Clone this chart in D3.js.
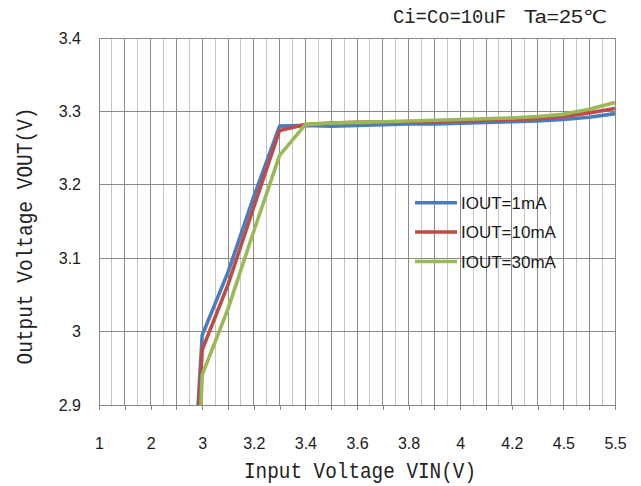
<!DOCTYPE html>
<html>
<head>
<meta charset="utf-8">
<script src="https://cdn.jsdelivr.net/npm/d3@7/dist/d3.min.js"></script>
<style>
  html, body { margin: 0; padding: 0; background: #fff; }
  svg { display: block; }
</style>
</head>
<body>
<svg id="chart" width="641" height="486"></svg>
<script>
// ---- data ----
const categories = ["1","1.5","2","2.5","3","3.1","3.2","3.3","3.4","3.5","3.6","3.7","3.8","3.9","4","4.1","4.2","4.3","4.5","5","5.5"];
const tickLabels = ["1","2","3","3.2","3.4","3.6","3.8","4","4.2","4.5","5.5"];
const yTicks = [2.9, 3.0, 3.1, 3.2, 3.3, 3.4];
const seriesNames = ["IOUT=1mA", "IOUT=10mA", "IOUT=30mA"];
const iout1mA  = [0.97, 1.47, 1.97, 2.40, 2.995, 3.081, 3.184, 3.280, 3.281, 3.280, 3.281, 3.282, 3.283, 3.283, 3.284, 3.285, 3.286, 3.287, 3.289, 3.292, 3.297];
const iout10mA = [0.96, 1.46, 1.96, 2.35, 2.975, 3.064, 3.170, 3.274, 3.282, 3.284, 3.285, 3.286, 3.286, 3.286, 3.287, 3.288, 3.289, 3.290, 3.293, 3.298, 3.304];
const iout30mA = [0.94, 1.43, 1.92, 2.10, 2.941, 3.031, 3.137, 3.240, 3.282, 3.284, 3.285, 3.286, 3.287, 3.288, 3.289, 3.290, 3.291, 3.293, 3.296, 3.303, 3.312];
const colors = ["#4A7EBB", "#BE4B48", "#98B954"];
const noteLeft = "Ci=Co=10uF";
const noteRight = "Ta=25\u2103";

// ---- layout ----
const L = 99, R = 615, T = 38, B = 405;
const svg = d3.select("#chart");

const x = d3.scalePoint().domain(categories).range([L, R]).padding(0);
const y = d3.scaleLinear().domain([2.9, 3.4]).range([B, T]);

// minor vertical gridlines (midpoints)
const mids = [];
for (let i = 0; i < categories.length - 1; i++) mids.push((x(categories[i]) + x(categories[i + 1])) / 2);
svg.append("g").selectAll("line").data(mids).join("line")
  .attr("x1", d => d).attr("x2", d => d).attr("y1", T).attr("y2", B)
  .attr("stroke", "#c4c4c4").attr("stroke-width", 1).attr("shape-rendering", "crispEdges");

// major vertical gridlines
svg.append("g").selectAll("line").data(categories).join("line")
  .attr("x1", d => x(d)).attr("x2", d => x(d)).attr("y1", T).attr("y2", B)
  .attr("stroke", "#8a8a8a").attr("stroke-width", 1).attr("shape-rendering", "crispEdges");

// horizontal gridlines
svg.append("g").selectAll("line").data(yTicks).join("line")
  .attr("x1", L).attr("x2", R).attr("y1", d => y(d)).attr("y2", d => y(d))
  .attr("stroke", "#8a8a8a").attr("stroke-width", 1).attr("shape-rendering", "crispEdges");

// x axis
const xAxis = d3.axisBottom(x)
  .tickValues(categories)
  .tickFormat(d => tickLabels.includes(d) ? d : "")
  .tickSizeInner(5).tickSizeOuter(0).tickPadding(28);
const gx = svg.append("g").attr("transform", `translate(0,${B})`).call(xAxis);
gx.select(".domain").attr("stroke", "#868686").attr("shape-rendering", "crispEdges");
gx.selectAll(".tick line").attr("stroke", "#868686").attr("shape-rendering", "crispEdges");
gx.selectAll("text").attr("font-family", "'Liberation Sans', Arial, sans-serif").attr("font-size", 16).attr("fill", "#1a1a1a");

// y axis
const yAxis = d3.axisLeft(y).tickValues(yTicks)
  .tickFormat(d => String(+d.toFixed(1)))
  .tickSizeInner(0).tickSizeOuter(0).tickPadding(18);
const gy = svg.append("g").attr("transform", `translate(${L},0)`).call(yAxis);
gy.select(".domain").attr("stroke", "#868686").attr("shape-rendering", "crispEdges");
gy.selectAll("text").attr("font-family", "'Liberation Sans', Arial, sans-serif").attr("font-size", 16).attr("fill", "#1a1a1a");

// clip
svg.append("clipPath").attr("id", "plotClip").append("rect")
  .attr("x", L - 3).attr("y", T - 3).attr("width", R - L + 6).attr("height", B - T + 3);

const line = d3.line().x((d, i) => x(categories[i])).y(d => y(d));
const allSeries = [iout1mA, iout10mA, iout30mA];
svg.append("g").attr("clip-path", "url(#plotClip)")
  .selectAll("path").data(allSeries).join("path")
  .attr("d", d => line(d))
  .attr("fill", "none")
  .attr("stroke", (d, i) => colors[i])
  .attr("stroke-width", 3.6)
  .attr("stroke-linejoin", "round");

// legend
const lg = svg.append("g");
const legY = [202.7, 232, 261.5];
seriesNames.forEach((name, i) => {
  lg.append("line").attr("x1", 415).attr("x2", 457).attr("y1", legY[i]).attr("y2", legY[i])
    .attr("stroke", colors[i]).attr("stroke-width", 3.6);
  lg.append("text").attr("x", 461).attr("y", legY[i]).attr("dy", "0.36em")
    .attr("font-family", "'Liberation Sans', Arial, sans-serif").attr("font-size", 17)
    .attr("fill", "#1a1a1a").text(name);
});

// note text (top right)
svg.append("text").attr("x", 393).attr("y", 23)
  .attr("font-family", "'Liberation Mono', 'DejaVu Sans Mono', monospace").attr("font-size", 20)
  .attr("textLength", 113).attr("lengthAdjust", "spacingAndGlyphs")
  .attr("fill", "#222").text(noteLeft);
svg.append("text").attr("x", 524).attr("y", 23)
  .attr("font-family", "'Liberation Sans', 'DejaVu Sans', sans-serif").attr("font-size", 18)
  .attr("textLength", 83).attr("lengthAdjust", "spacingAndGlyphs")
  .attr("fill", "#222").text(noteRight);

// axis titles
svg.append("text").attr("x", 360).attr("y", 478).attr("text-anchor", "middle")
  .attr("font-family", "'Liberation Mono', 'DejaVu Sans Mono', monospace").attr("font-size", 22)
  .attr("textLength", 232).attr("lengthAdjust", "spacingAndGlyphs")
  .attr("fill", "#222").text("Input Voltage VIN(V)");
svg.append("text").attr("transform", "translate(32,236) rotate(-90)").attr("text-anchor", "middle")
  .attr("font-family", "'Liberation Mono', 'DejaVu Sans Mono', monospace").attr("font-size", 22)
  .attr("textLength", 257).attr("lengthAdjust", "spacingAndGlyphs")
  .attr("fill", "#222").text("Output Voltage VOUT(V)");
</script>
</body>
</html>
